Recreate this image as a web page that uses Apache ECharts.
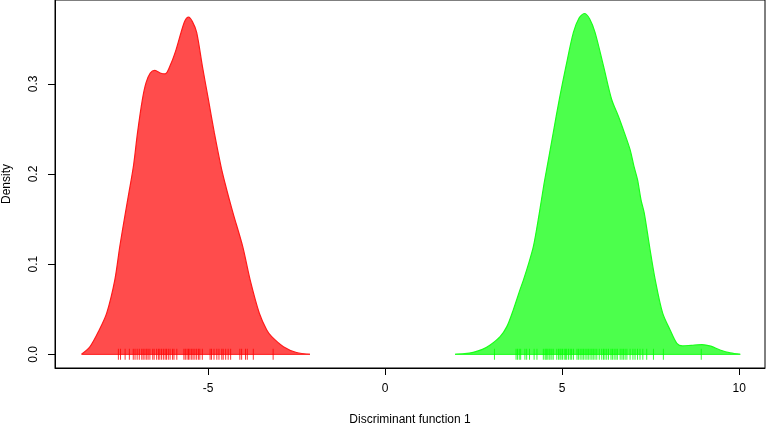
<!DOCTYPE html>
<html><head><meta charset="utf-8">
<script src="https://cdn.jsdelivr.net/npm/echarts@6/dist/echarts.min.js"></script>
<style>html,body{margin:0;padding:0;background:#fff}#c{width:767px;height:423px}</style>
</head><body><div id="c"></div>
<script>
const xTicks = [-5, 0, 5, 10];
const yTicks = [0, 0.1, 0.2, 0.3];
const redDensity = [[-8.57,0],[-8.33,0.0085],[-8.07,0.027],[-7.86,0.0456],[-7.63,0.0826],[-7.49,0.1196],[-7.34,0.155],[-7.22,0.182],[-7.10,0.210],[-6.99,0.2456],[-6.85,0.283],[-6.75,0.301],[-6.63,0.312],[-6.50,0.315],[-6.35,0.312],[-6.21,0.311],[-6.05,0.322],[-5.90,0.338],[-5.76,0.357],[-5.65,0.370],[-5.55,0.374],[-5.44,0.369],[-5.32,0.357],[-5.16,0.320],[-4.99,0.283],[-4.82,0.2456],[-4.63,0.208],[-4.52,0.190],[-4.40,0.172],[-4.28,0.155],[-4.02,0.1196],[-3.81,0.0826],[-3.55,0.0456],[-3.34,0.027],[-3.2,0.0196],[-2.87,0.0085],[-2.5,0.002],[-2.12,0]];
const greenDensity = [[1.98,0],[2.25,0.0007],[2.49,0.0022],[2.75,0.0055],[2.97,0.0103],[3.25,0.0196],[3.44,0.0307],[3.62,0.049],[3.81,0.0714],[3.91,0.0826],[4.05,0.100],[4.19,0.1196],[4.35,0.155],[4.49,0.189],[4.60,0.213],[4.75,0.2456],[4.92,0.2826],[5.11,0.3196],[5.32,0.357],[5.48,0.373],[5.63,0.378],[5.78,0.372],[5.93,0.357],[6.17,0.3196],[6.40,0.2826],[6.59,0.264],[6.76,0.2456],[6.92,0.227],[7.03,0.2084],[7.13,0.1937],[7.23,0.171],[7.32,0.1567],[7.47,0.1196],[7.63,0.0826],[7.84,0.0456],[8.05,0.027],[8.24,0.0122],[8.40,0.0093],[8.65,0.0100],[8.95,0.0108],[9.2,0.009],[9.46,0.0048],[9.75,0.0015],[10.03,0]];
const redRug = [-7.53,-7.47,-7.34,-7.22,-7.11,-7.06,-7.00,-6.94,-6.87,-6.83,-6.78,-6.73,-6.69,-6.64,-6.56,-6.52,-6.45,-6.40,-6.36,-6.31,-6.26,-6.21,-6.17,-6.12,-6.07,-6.00,-5.96,-5.88,-5.68,-5.64,-5.59,-5.55,-5.51,-5.46,-5.42,-5.37,-5.32,-5.27,-5.23,-5.16,-4.94,-4.90,-4.83,-4.75,-4.69,-4.61,-4.57,-4.50,-4.43,-4.36,-4.10,-4.05,-3.94,-3.89,-3.72,-3.16];
const greenRug = [3.09,3.70,3.74,3.79,3.83,3.95,4.00,4.08,4.21,4.29,4.47,4.52,4.55,4.58,4.63,4.66,4.71,4.75,4.85,4.90,4.94,4.97,5.01,5.06,5.10,5.13,5.18,5.23,5.27,5.32,5.42,5.46,5.51,5.56,5.60,5.65,5.70,5.74,5.79,5.84,5.88,5.93,5.98,6.05,6.12,6.17,6.21,6.26,6.31,6.38,6.42,6.47,6.52,6.56,6.64,6.69,6.73,6.78,6.83,6.92,7.00,7.06,7.13,7.20,7.28,7.39,7.58,7.86,8.93];

const font = 'Liberation Sans, Arial, Helvetica, sans-serif';
function areaSeries(data, line, fill) {
  return {type:'line', data:data, smooth:0.3, symbol:'none', sampling:null,
    lineStyle:{color:line, width:1.2}, areaStyle:{color:fill, opacity:1}, z:2, silent:true};
}
function baseSeries(data, line) {
  return {type:'line', data:[[data[0][0],0],[data[data.length-1][0],0]], symbol:'none',
    lineStyle:{color:line, width:1.2}, z:3, silent:true};
}
function rugSeries(vals, color) {
  return {type:'scatter', data: vals.map(v=>[v,0]), symbol:'rect', symbolSize:[1,11],
    itemStyle:{color:color}, z:4, silent:true};
}
const chart = echarts.init(document.getElementById('c'), null, {renderer:'canvas'});
chart.setOption({
  animation:false,
  grid:{left:55, right:2, top:0, bottom:55, containLabel:false, outerBoundsMode:'none',
    show:true, borderColor:'#000', borderWidth:1},
  xAxis:{type:'value', min:-9.32, max:10.73,
    name:'Discriminant function 1', nameLocation:'middle', nameGap:46,
    nameTextStyle:{fontFamily:font, fontSize:12, color:'#000'},
    axisLine:{show:true, onZero:false, lineStyle:{color:'#000'}},
    axisTick:{show:true, length:7, lineStyle:{color:'#000'}, customValues:xTicks},
    axisLabel:{fontFamily:font, fontSize:12, color:'#000', margin:15, customValues:xTicks},
    splitLine:{show:false}},
  yAxis:{type:'value', min:-0.0152, max:0.393,
    name:'Density', nameLocation:'middle', nameGap:42,
    nameTextStyle:{fontFamily:font, fontSize:12, color:'#000'},
    axisLine:{show:true, onZero:false, lineStyle:{color:'#000'}},
    axisTick:{show:true, length:7, lineStyle:{color:'#000'}, customValues:yTicks},
    axisLabel:{fontFamily:font, fontSize:12, color:'#000', margin:15, rotate:90,
      customValues:yTicks, formatter:v=>v.toFixed(1)},
    splitLine:{show:false}},
  series:[
    areaSeries(redDensity, '#ff1a1a', 'rgba(255,0,0,0.7)'),
    baseSeries(redDensity, '#ff3030'),
    areaSeries(greenDensity, '#1aff1a', 'rgba(0,255,0,0.7)'),
    baseSeries(greenDensity, '#30ff30'),
    rugSeries(redRug, '#ff0000'),
    rugSeries(greenRug, '#00ff00')
  ]
});
</script></body></html>
